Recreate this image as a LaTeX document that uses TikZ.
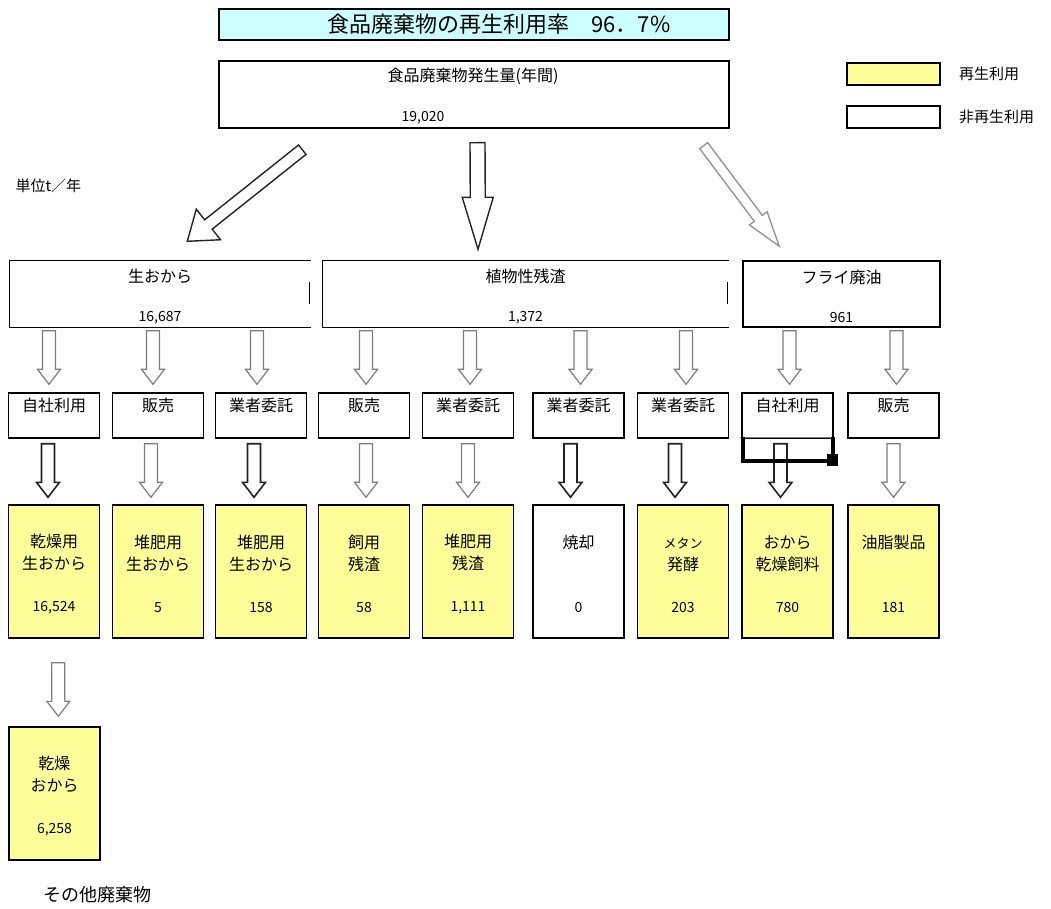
\documentclass[tikz,border=0pt]{standalone}
\usepackage{fontspec}
\setmainfont{Noto Sans CJK JP}
\usepackage{tikz}
\usetikzlibrary{calc,positioning}
\definecolor{ratecyan}{RGB}{204,255,255}
\definecolor{reuseyel}{RGB}{255,255,153}
\definecolor{arrgray}{RGB}{125,125,125}
\definecolor{arrdark}{RGB}{35,35,35}
\definecolor{arrlight}{RGB}{150,150,150}

\newcommand{\tallstrut}{\rule{0pt}{19pt}}
\newcommand{\amt}[1]{{\fontsize{14}{20}\selectfont #1}}

% hollow block arrow: {start gap}{end gap}{gap+head length}{half shaft}{half head}
\tikzset{
  hollow/.style n args={5}{to path={
    ($(\tikztostart)!#1!(\tikztotarget)!#4!90:(\tikztotarget)$)
    -- ($(\tikztotarget)!#3!(\tikztostart)!#4!-90:(\tikztostart)$)
    -- ($(\tikztotarget)!#3!(\tikztostart)!#5!-90:(\tikztostart)$)
    -- ($(\tikztotarget)!#2!(\tikztostart)$)
    -- ($(\tikztotarget)!#3!(\tikztostart)!#5!90:(\tikztostart)$)
    -- ($(\tikztotarget)!#3!(\tikztostart)!#4!90:(\tikztostart)$)
    -- ($(\tikztostart)!#1!(\tikztotarget)!#4!-90:(\tikztotarget)$)
    -- cycle}}
}

\begin{document}
\begin{tikzpicture}[
  x=1pt, y=-1pt,
  font=\fontsize{16}{20}\selectfont,
  box/.style={draw, line width=1.4pt, inner sep=0pt, align=center},
  hdbox/.style={box, minimum height=66pt},
  waybox/.style={box, minimum width=91pt, minimum height=45pt, text height=14pt, text depth=23pt},
  prodbox/.style={box, fill=reuseyel, minimum width=91pt, minimum height=133pt},
  arrA/.style={hollow={3pt}{8pt}{23pt}{6.5pt}{11.5pt}, fill=white, line width=1.2pt, draw=arrgray},
  arrB/.style={hollow={5pt}{7pt}{22pt}{6.5pt}{11.5pt}, fill=white, line width=1.2pt, draw=arrgray},
  darkarr/.style={draw=arrdark, line width=1.6pt},
  bigarr/.style={fill=white, line width=1.4pt, draw=arrdark}
]
\useasboundingbox (0,0) rectangle (1051,909);

% header
\node[box, fill=ratecyan, minimum width=510pt, minimum height=31pt, font=\fontsize{22}{26}\selectfont] (rate) at (474,24.5) {\hspace*{50pt}食品廃棄物の再生利用率　96．7\%};
\node[box, minimum width=510pt, minimum height=67pt] (gen) at (474,94.5) {};
\node (genT) at (473,76) {食品廃棄物発生量(年間)};
\node (genN) at (423,118) {\amt{19,020}};

% legend
\node[box, fill=reuseyel, minimum width=93pt, minimum height=22pt] (lgY) at (893.5,74) {};
\node[box, minimum width=93pt, minimum height=22pt] (lgW) at (893.5,117) {};
\node[right=15pt of lgY, font=\fontsize{15}{18}\selectfont] (lgYt) {再生利用};
\node[right=15pt of lgW, font=\fontsize{15}{18}\selectfont] (lgWt) {非再生利用};

\node[anchor=west, font=\fontsize{15}{18}\selectfont] (unit) at (12,186) {単位t／年};

% sources
\node[hdbox, draw=none, minimum width=300pt] (okara) at (160,294) {\tallstrut 生おから\\[19pt]\amt{16,687}};
\node[hdbox, draw=none, minimum width=405pt] (zansa) at (525.5,294) {\tallstrut 植物性残渣\\[19pt]\amt{1,372}};
\node[hdbox, minimum width=197pt] (haiyu) at (841.5,294) {\tallstrut フライ廃油\\[19pt]\amt{961}};
\foreach \n in {okara,zansa} {
  \draw[line width=1.4pt] (\n.north east) -- (\n.north west) -- (\n.south west) -- (\n.south east);
  \draw[line width=1.4pt] ([xshift=-1pt,yshift=-22pt]\n.north east) -- ([xshift=-1pt,yshift=-44pt]\n.north east);
}

% ways
\node[waybox] (u1) at (54,415.5) {自社利用};
\node[waybox] (u2) at (158,415.5) {販売};
\node[waybox] (u3) at (261,415.5) {業者委託};
\node[waybox] (u4) at (364,415.5) {販売};
\node[waybox] (u5) at (468,415.5) {業者委託};
\node[waybox] (u6) at (578.5,415.5) {業者委託};
\node[waybox] (u7) at (683,415.5) {業者委託};
\node[waybox] (u8) at (787.5,415.5) {自社利用};
\node[waybox] (u9) at (893.5,415.5) {販売};

% products
\node[prodbox] (p1) at (54,571.5) {\tallstrut 乾燥用\\[2pt]生おから\\[22pt]\amt{16,524}};
\node[prodbox] (p2) at (158,571.5) {\tallstrut 堆肥用\\[2pt]生おから\\[22pt]\amt{5}};
\node[prodbox] (p3) at (261,571.5) {\tallstrut 堆肥用\\[2pt]生おから\\[22pt]\amt{158}};
\node[prodbox] (p4) at (364,571.5) {\tallstrut 飼用\\[2pt]残渣\\[22pt]\amt{58}};
\node[prodbox] (p5) at (468,571.5) {\tallstrut 堆肥用\\[2pt]残渣\\[22pt]\amt{1,111}};
\node[prodbox, fill=white] (p6) at (578.5,571.5) {\tallstrut 焼却\\[2pt]\mbox{}\\[22pt]\amt{0}};
\node[prodbox] (p7) at (683,571.5) {\tallstrut {\fontsize{13}{20}\selectfont メタン}\\[2pt]発酵\\[22pt]\amt{203}};
\node[prodbox] (p8) at (787.5,571.5) {\tallstrut おから\\[2pt]乾燥飼料\\[22pt]\amt{780}};
\node[prodbox] (p9) at (893.5,571.5) {\tallstrut 油脂製品\\[2pt]\mbox{}\\[22pt]\amt{181}};

\node[prodbox] (dry) at (54.5,793.5) {\tallstrut 乾燥\\[2pt]おから\\[22pt]\amt{6,258}};
\node[font=\fontsize{18}{22}\selectfont] (other) at (97,895) {その他廃棄物};

% big arrows
\draw[bigarr, hollow={0pt}{0pt}{27pt}{6pt}{19.5pt}] ([xshift=84pt,yshift=-21pt]gen.south west) to ([xshift=178pt,yshift=19pt]okara.north west);
\draw[bigarr, hollow={0pt}{0pt}{52pt}{7.5pt}{15.5pt}] ([xshift=3.5pt,yshift=-14pt]gen.south) to ([xshift=-47.5pt,yshift=11pt]zansa.north);
\draw[bigarr, draw=arrlight, hollow={0pt}{0pt}{35pt}{5pt}{11pt}] ([xshift=-26pt,yshift=-17pt]gen.south east) to ([xshift=37pt,yshift=14pt]haiyu.north west);

% source -> way
\draw[arrA] ([xshift=-5pt]okara.south -| u1.north) to ([xshift=-5pt]u1.north);
\draw[arrA] ([xshift=-5pt]okara.south -| u2.north) to ([xshift=-5pt]u2.north);
\draw[arrA] ([xshift=-4pt]okara.south -| u3.north) to ([xshift=-4pt]u3.north);
\draw[arrA] ([xshift=2pt]zansa.south -| u4.north) to ([xshift=2pt]u4.north);
\draw[arrA] ([xshift=2pt]zansa.south -| u5.north) to ([xshift=2pt]u5.north);
\draw[arrA] ([xshift=2pt]zansa.south -| u6.north) to ([xshift=2pt]u6.north);
\draw[arrA] ([xshift=3pt]zansa.south -| u7.north) to ([xshift=3pt]u7.north);
\draw[arrA] ([xshift=2pt]haiyu.south -| u8.north) to ([xshift=2pt]u8.north);
\draw[arrA] ([xshift=3pt]haiyu.south -| u9.north) to ([xshift=3pt]u9.north);

% way -> product
\draw[arrB, darkarr] ([xshift=-6pt]u1.south) to ([xshift=-6pt]p1.north);
\draw[arrB] ([xshift=-7pt]u2.south) to ([xshift=-7pt]p2.north);
\draw[arrB, darkarr] ([xshift=-7pt]u3.south) to ([xshift=-7pt]p3.north);
\draw[arrB] ([xshift=2pt]u4.south) to ([xshift=2pt]p4.north);
\draw[arrB] (u5.south) to (p5.north);
\draw[arrB, darkarr] ([xshift=-8pt]u6.south) to ([xshift=-8pt]p6.north);
\draw[arrB, darkarr] ([xshift=-8pt]u7.south) to ([xshift=-8pt]p7.north);
\draw[arrB, darkarr] ([xshift=-7pt]u8.south) to ([xshift=-7pt]p8.north);
\draw[arrB] (u9.south) to (p9.north);

\draw[arrA, hollow={24pt}{10pt}{25pt}{6.5pt}{11.5pt}] ([xshift=4pt]p1.south) to ([xshift=4pt]dry.north);

% selection mark under u8
\draw[line width=0.8pt, arrgray] (740,437.5) -- (835,437.5);
\draw[line width=4pt] (743,437) -- (743,460.5) -- (828,460.5);
\draw[line width=4pt] (832.5,437) -- (832.5,455);
\fill (827,454) rectangle (838,466);

\end{tikzpicture}
\end{document}
